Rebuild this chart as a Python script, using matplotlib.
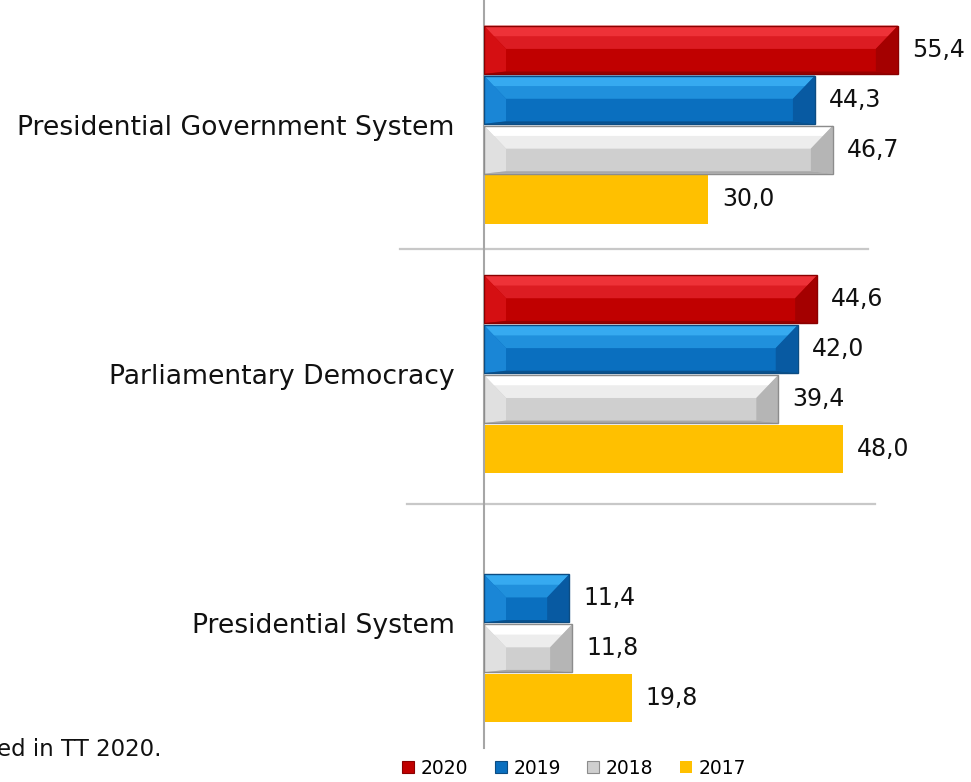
import matplotlib.pyplot as plt
import numpy as np
from matplotlib.patches import Polygon, Patch

plt.rcParams['font.family'] = ['DejaVu Sans']

categories = ["Presidential Government System", "Parliamentary Democracy", "Presidential System"]
years = ["2020", "2019", "2018", "2017"]
v2020 = [55.4, 44.6, np.nan]
v2019 = [44.3, 42.0, 11.4]
v2018 = [46.7, 39.4, 11.8]
v2017 = [30.0, 48.0, 19.8]
series = [v2020, v2019, v2018, v2017]

# face, top bevel (2 tones), left, right, bottom, edge
styles = [
    dict(face="#c00000", top=("#ee3238", "#dc1c22"), left="#d50f12", right="#a40000", bot="#980000", edge="#8a0000"),
    dict(face="#0a6fbf", top=("#36aaf0", "#2090dc"), left="#1a86d6", right="#085aa2", bot="#09518e", edge="#0c4c82"),
    dict(face="#cfcfcf", top=("#ffffff", "#ededed"), left="#e0e0e0", right="#b5b5b5", bot="#a8a8a8", edge="#8c8c8c"),
    dict(face="#ffc000"),
]

fig = plt.figure(figsize=(9.71, 7.82), dpi=100)
ax = fig.add_axes([484 / 971, 1 - 748 / 782, 487 / 971, 748 / 782])
ax.set_xlim(0, 487 / 7.47)
ax.set_ylim(2.5, -0.5)

y = np.arange(len(categories))
h = 0.193
bx = 22 / 7.47  # bevel width in data units

def bevel(ax, rect, st):
    x0, x1 = rect.get_x(), rect.get_x() + rect.get_width()
    yt, yb = rect.get_y(), rect.get_y() + rect.get_height()
    hh = yb - yt
    dt = 0.48 * hh
    db = 0.05 * hh
    bw = min(bx, (x1 - x0) / 2)
    ym = yt + dt
    # top bevel, two tones
    ax.add_patch(Polygon([(x0, yt), (x1, yt), (x1 - bw, ym), (x0 + bw, ym)], closed=True,
                         fc=st["top"][1], ec="none", zorder=3))
    yh = yt + dt * 0.45
    f = 0.45
    ax.add_patch(Polygon([(x0, yt), (x1, yt), (x1 - bw * f, yh), (x0 + bw * f, yh)], closed=True,
                         fc=st["top"][0], ec="none", zorder=3))
    ax.add_patch(Polygon([(x0, yt), (x0 + bw, ym), (x0 + bw, yb - db), (x0, yb)], closed=True,
                         fc=st["left"], ec="none", zorder=3))
    ax.add_patch(Polygon([(x1, yt), (x1, yb), (x1 - bw, yb - db), (x1 - bw, ym)], closed=True,
                         fc=st["right"], ec="none", zorder=3))
    ax.add_patch(Polygon([(x0, yb), (x1, yb), (x1 - bw, yb - db), (x0 + bw, yb - db)], closed=True,
                         fc=st["bot"], ec="none", zorder=3))
    ax.add_patch(Polygon([(x0, yt), (x1, yt), (x1, yb), (x0, yb)], closed=True,
                         fc="none", ec=st["edge"], lw=1, zorder=4))

for i, (vals, st) in enumerate(zip(series, styles)):
    pos = y + (i - 1.5) * 0.2
    bars = ax.barh(pos, vals, height=h, color=st["face"], zorder=2)
    for rect, v, p in zip(bars, vals, pos):
        if np.isnan(v):
            continue
        if "top" in st:
            bevel(ax, rect, st)
        ax.annotate(f"{v:.1f}".replace(".", ","), (v, p), xytext=(14, 0),
                    textcoords="offset pixels", va="center", ha="left",
                    fontsize=17, color="#111111")

# separators between groups
ax.plot([-84 / 7.47, 384 / 7.47], [0.5, 0.5], color="#c8c8c8", lw=1.6, clip_on=False, zorder=1)
ax.plot([-77 / 7.47, 391 / 7.47], [1.52, 1.52], color="#c8c8c8", lw=1.6, clip_on=False, zorder=1)

ax.set_yticks(y)
ax.set_yticklabels(categories, fontsize=19.2, color="#111111")
ax.tick_params(axis="y", length=0, pad=21)
ax.set_xticks([])
for s in ["top", "right", "bottom"]:
    ax.spines[s].set_visible(False)
ax.spines["left"].set_color("#a6a6a6")
ax.spines["left"].set_linewidth(1.5)

handles = [Patch(fc=styles[k]["face"], ec=styles[k].get("edge", "none"), lw=0.8) for k in range(4)]
fig.legend(handles, years, loc="center", bbox_to_anchor=(574 / 971, 1 - 768 / 782),
           ncol=4, frameon=False, fontsize=13.5, handlelength=0.65, handleheight=0.65,
           handletextpad=0.35, columnspacing=1.4)

fig.text(161 / 971, 1 - 750 / 782, "ed in TT 2020.", ha="right", va="center", fontsize=16.5, color="#111111")

fig.savefig("out.png", dpi=100)
